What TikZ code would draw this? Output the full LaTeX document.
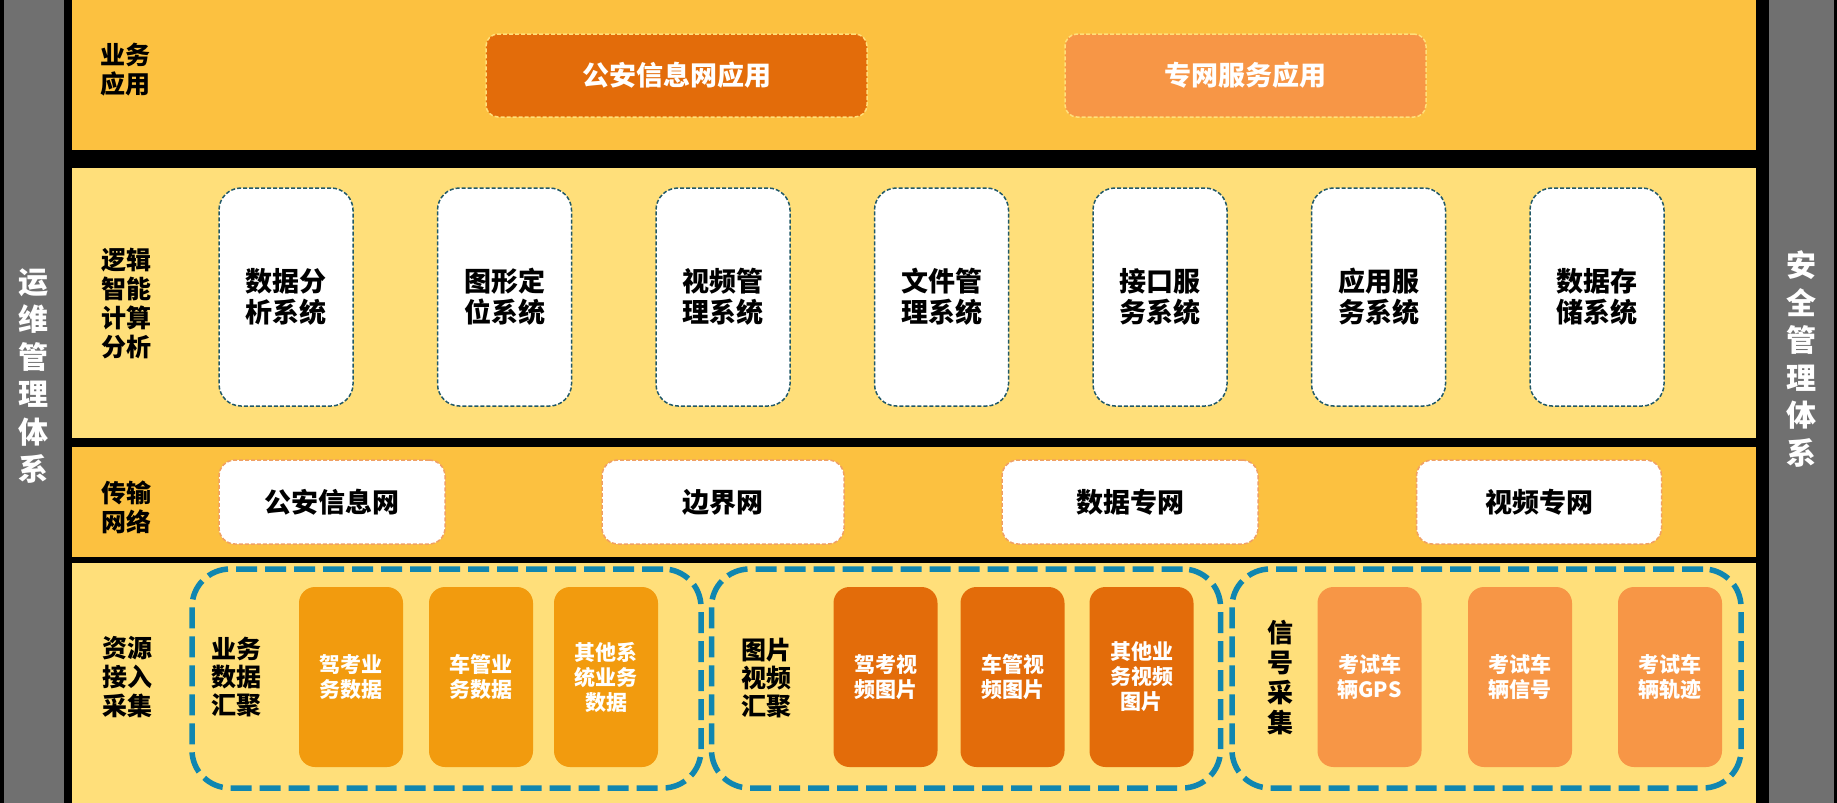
\documentclass[tikz,border=0pt]{standalone}
\usepackage{fontspec}
\setmainfont{Noto Sans CJK SC}
\usepackage{tikz}

\definecolor{layerdark}{RGB}{252,193,64}
\definecolor{layerlight}{RGB}{255,223,122}
\definecolor{sidegray}{RGB}{112,112,112}
\definecolor{deeporange}{RGB}{227,108,10}
\definecolor{softorange}{RGB}{247,150,70}
\definecolor{goldorange}{RGB}{242,155,14}
\definecolor{frameblue}{RGB}{16,134,176}
\definecolor{sysborder}{RGB}{33,89,104}
\definecolor{netborder}{RGB}{240,160,100}

\begin{document}
\begin{tikzpicture}[x=1pt, y=-1pt,
    layerlabel/.style = {align=center, font=\bfseries\fontsize{25}{29}\selectfont},
    sidelabel/.style = {align=center, text=white, font=\bfseries\fontsize{30}{37.5}\selectfont},
    appbox/.style = {draw=layerlight, line width=1.5pt, dash pattern=on 4pt off 2pt, rounded corners=12pt,
                     minimum height=83pt, text=white, font=\bfseries\fontsize{27}{31}\selectfont},
    sysbox/.style = {draw=sysborder, fill=white, line width=1.5pt, dash pattern=on 4pt off 2pt, rounded corners=22pt,
                     minimum width=134pt, minimum height=218pt, align=center, font=\bfseries\fontsize{27}{31}\selectfont},
    netbox/.style = {draw=netborder, fill=white, line width=1.5pt, dash pattern=on 4pt off 2pt, rounded corners=16pt,
                     minimum height=84pt, font=\bfseries\fontsize{27}{31}\selectfont},
    groupframe/.style = {draw=frameblue, line width=5.5pt, dash pattern=on 21pt off 8pt, rounded corners=38pt,
                         minimum width=509pt, minimum height=219pt},
    grouplabel/.style = {align=center, font=\bfseries\fontsize{25}{28}\selectfont},
    srcbox/.style = {rounded corners=16pt, minimum width=104pt, minimum height=180pt, text=white, align=center,
                     font=\bfseries\fontsize{21}{25}\selectfont}]
    \useasboundingbox (0,0) rectangle (1837,803);
    \fill[black] (0,0) rectangle (1837,803);

    % side bars
    \fill[sidegray] (4,0) rectangle (64,803);
    \fill[sidegray] (1769,0) rectangle (1834,803);
    \node[sidelabel] (ops) at (34,376) {运\\维\\管\\理\\体\\系};
    \node[sidelabel] (sec) at (1801,359) {安\\全\\管\\理\\体\\系};

    % layers
    \fill[layerdark] (72,0) rectangle (1756,150);
    \fill[layerlight] (72,168) rectangle (1756,438);
    \fill[layerdark] (72,447) rectangle (1756,557);
    \fill[layerlight] (72,563) rectangle (1756,803);

    % business applications
    \node[layerlabel] (app) at (125,70) {业务\\应用};
    \node[appbox, fill=deeporange, minimum width=381pt] (psnapp) at (676.5,75.5) {公安信息网应用};
    \node[appbox, fill=softorange, minimum width=361pt] (privapp) at (1245.5,75.5) {专网服务应用};

    % logic analysis
    \node[layerlabel] (logic) at (126,304) {逻辑\\智能\\计算\\分析};
    \node[sysbox] (sys1) at (286,297) {数据分\\析系统};
    \node[sysbox] (sys2) [right of=sys1, node distance=218.5pt] {图形定\\位系统};
    \node[sysbox] (sys3) [right of=sys2, node distance=218.5pt] {视频管\\理系统};
    \node[sysbox] (sys4) [right of=sys3, node distance=218.5pt] {文件管\\理系统};
    \node[sysbox] (sys5) [right of=sys4, node distance=218.5pt] {接口服\\务系统};
    \node[sysbox] (sys6) [right of=sys5, node distance=218.5pt] {应用服\\务系统};
    \node[sysbox] (sys7) [right of=sys6, node distance=218.5pt] {数据存\\储系统};

    % transport networks
    \node[layerlabel] (trans) at (126,507) {传输\\网络};
    \node[netbox, minimum width=226pt] (psn) at (332,502) {公安信息网};
    \node[netbox, minimum width=242pt] (border) at (723,502) {边界网};
    \node[netbox, minimum width=256pt] (datanet) at (1130,502) {数据专网};
    \node[netbox, minimum width=245pt] (videonet) at (1539,502) {视频专网};

    % resource access
    \node[layerlabel] (res) at (127,677) {资源\\接入\\采集};

    \node[groupframe] (grpbiz) at (446.5,678.5) {};
    \node[grouplabel] (bizlabel) at (236,677) {业务\\数据\\汇聚};
    \node[srcbox, fill=goldorange] (biz1) at (351,677) {驾考业\\务数据};
    \node[srcbox, fill=goldorange] (biz2) at (481,677) {车管业\\务数据};
    \node[srcbox, fill=goldorange] (biz3) at (606,677) {其他系\\统业务\\数据};

    \node[groupframe] (grpimg) at (966,678.5) {};
    \node[grouplabel] (imglabel) at (766,678) {图片\\视频\\汇聚};
    \node[srcbox, fill=deeporange] (img1) at (885.5,677) {驾考视\\频图片};
    \node[srcbox, fill=deeporange] (img2) at (1012.5,677) {车管视\\频图片};
    \node[srcbox, fill=deeporange] (img3) at (1141.5,677) {其他业\\务视频\\图片};

    \node[groupframe] (grpsig) at (1486.5,678.5) {};
    \node[grouplabel, font=\bfseries\fontsize{26}{30}\selectfont] (siglabel) at (1280,678) {信\\号\\采\\集};
    \node[srcbox, fill=softorange] (sig1) at (1369.5,677) {考试车\\辆GPS};
    \node[srcbox, fill=softorange] (sig2) at (1520,677) {考试车\\辆信号};
    \node[srcbox, fill=softorange] (sig3) at (1670,677) {考试车\\辆轨迹};
\end{tikzpicture}
\end{document}
